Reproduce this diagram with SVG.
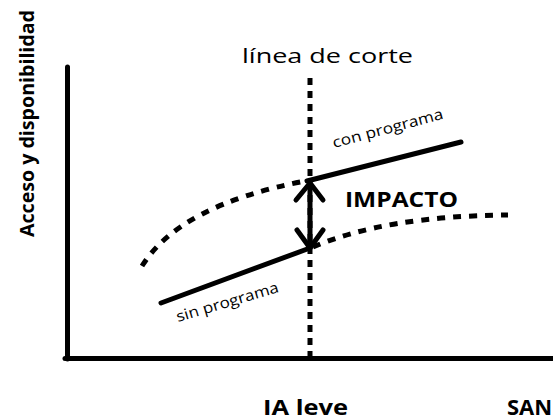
<svg xmlns="http://www.w3.org/2000/svg" width="553" height="420" viewBox="0 0 553 420">
<style>
.t{font-family:"Open Sans","DejaVu Sans",sans-serif;fill:#000}
.b{font-weight:bold}
.solid{stroke:#000;stroke-width:5;fill:none;stroke-linecap:round}
.dash{stroke:#000;stroke-width:5;fill:none;stroke-dasharray:8 8}
.dot{stroke:#000;stroke-width:5;fill:none;stroke-dasharray:7 6}
</style>
<rect width="553" height="420" fill="#fff"/>
<g id="axes">
<line x1="67.5" y1="67" x2="67.5" y2="359" class="solid" stroke-linecap="butt"/>
<line x1="65" y1="358.5" x2="553" y2="358.5" class="solid" stroke-linecap="butt"/>
</g>
<g id="connectors">
<line id="cut-line" x1="310" y1="78" x2="310" y2="357" class="dot"/>
<path id="con-dashed" d="M142,266 Q180,205 305,181" class="dash"/>
<line id="con-solid" x1="307" y1="181" x2="461" y2="142" class="solid"/>
<line id="sin-solid" x1="161" y1="303" x2="310" y2="248" class="solid"/>
<path id="sin-dashed" d="M313,247 Q385,216 508,215" class="dash"/>
<g id="impact-arrow" class="solid" stroke-linejoin="round">
<line x1="310" y1="184" x2="310" y2="246"/>
<polyline points="296,200 310,183 323,200"/>
<polyline points="297,230 310,248 323,230"/>
</g>
</g>
<g id="labels">
<text class="t b" transform="translate(34,237) rotate(-90)" font-size="20" textLength="227" lengthAdjust="spacingAndGlyphs">Acceso y disponibilidad</text>
<text class="t" x="242" y="63" font-size="20" textLength="171" lengthAdjust="spacingAndGlyphs">línea de corte</text>
<text class="t" transform="translate(334,148) rotate(-15)" font-size="15" textLength="114" lengthAdjust="spacingAndGlyphs">con programa</text>
<text class="t" transform="translate(178,322) rotate(-16.5)" font-size="15" textLength="106" lengthAdjust="spacingAndGlyphs">sin programa</text>
<text class="t b" x="345" y="207" font-size="22" textLength="113" lengthAdjust="spacingAndGlyphs">IMPACTO</text>
<text class="t b" x="263" y="415" font-size="22" textLength="85" lengthAdjust="spacingAndGlyphs">IA leve</text>
<text class="t b" x="507" y="415" font-size="22">SAN</text>
</g>
</svg>
